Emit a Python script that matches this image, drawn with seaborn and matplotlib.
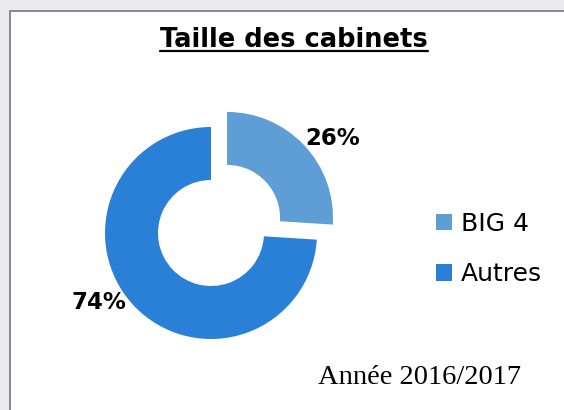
import matplotlib
matplotlib.use("Agg")
import matplotlib.pyplot as plt
import seaborn as sns
from matplotlib.patches import Rectangle, Patch
from matplotlib.lines import Line2D

# ---- data ----
categories = ["BIG 4", "Autres"]
shares = [26, 74]
colors = ["#5F9ED5", "#2A7FD7"]
title = "Taille des cabinets"
note = "Année 2016/2017"

sns.set_theme(style="white")
plt.rcParams["font.family"] = ["DejaVu Sans"]
plt.rcParams["text.color"] = "black"

W, H = 564, 410
fig = plt.figure(figsize=(W / 100, H / 100 + 0.0001), dpi=100)
fig.patch.set_facecolor("#EBEBED")
ax = fig.add_axes([0, 0, 1, 1])

def Y(y):
    return H - y

# donut
cx, cy, r = 211, 233, 106
wedges, _ = ax.pie(shares, colors=colors, startangle=90, counterclock=False,
                   center=(cx, Y(cy)), radius=r, explode=[22, 0],
                   wedgeprops=dict(width=r * 0.5, linewidth=0), frame=True)
ax.set_aspect("auto")
ax.set_xlim(0, W)
ax.set_ylim(0, H)
ax.axis("off")

# white panel with gray border on left and top only (filled rects, no edges)
ax.add_patch(Rectangle((9, 0), W - 9, Y(10), facecolor="#8A8A8A",
                       edgecolor="none", zorder=0))
ax.add_patch(Rectangle((11, 0), W - 11, Y(12), facecolor="white",
                       edgecolor="none", zorder=0.1))

# percentage labels
ax.text(333, Y(138), f"{shares[0]}%", ha="center", va="center",
        fontsize=16.5, fontweight="bold", color="black")
ax.text(99, Y(302), f"{shares[1]}%", ha="center", va="center",
        fontsize=16.5, fontweight="bold", color="black")

# title with underline
t = ax.text(294, Y(47), title, ha="center", va="baseline",
            fontsize=18.5, fontweight="bold", color="black")
fig.canvas.draw()
bb = t.get_window_extent(renderer=fig.canvas.get_renderer())
ax.add_line(Line2D([bb.x0, bb.x1], [Y(51.5), Y(51.5)], color="black", linewidth=1.6))

# note
ax.text(420, Y(384), note, ha="center", va="baseline", fontsize=20.5,
        family=["Liberation Serif"], color="black")

# legend
handles = [Patch(facecolor=c, edgecolor="none") for c in colors]
leg = ax.legend(handles, categories, loc="upper left", frameon=False,
                bbox_to_anchor=(436 / W, Y(212) / H), bbox_transform=fig.transFigure,
                fontsize=18, handlelength=0.64, handleheight=0.64, handletextpad=0.36,
                labelspacing=1.05, borderpad=0, borderaxespad=0)
for txt in leg.get_texts():
    txt.set_color("black")

# keep the right edge of the panel open (no border there)
fig.add_artist(Rectangle(((W - 6) / W, 0), 6 / W, (H - 12) / H,
                         transform=fig.transFigure, facecolor="white",
                         edgecolor="none", zorder=100))

fig.savefig("out.png", dpi=100, facecolor=fig.get_facecolor())
